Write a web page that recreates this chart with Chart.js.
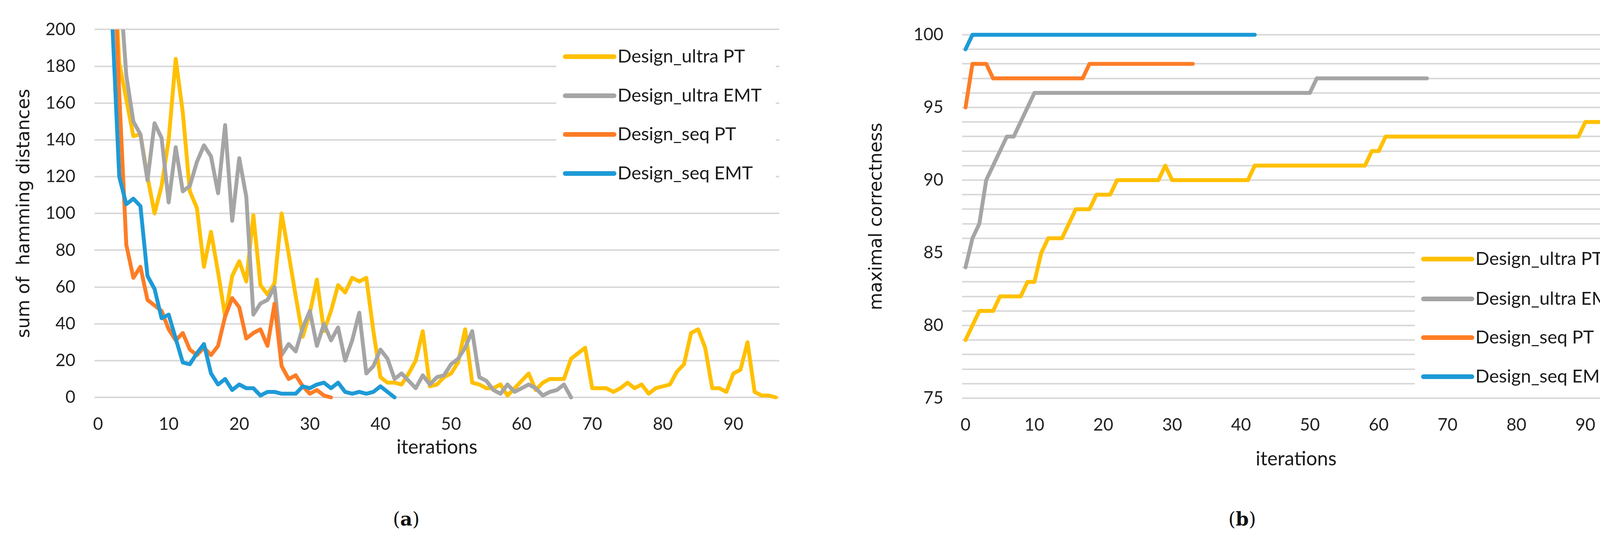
<!DOCTYPE html>
<html>
<head>
<meta charset="utf-8">
<script src="https://cdn.jsdelivr.net/npm/chart.js@4.4.1/dist/chart.umd.min.js"></script>
<style>
html, body { margin: 0; padding: 0; background: #fff; }
body { width: 4229px; height: 1405px; position: relative; overflow: hidden; }
canvas { position: absolute; top: 0; display: block; }
#chart-a { left: 0; width: 2110px; height: 1205px; }
#chart-b { left: 2110px; width: 2119px; height: 1205px; }
.caption { position: absolute; top: 1300px; font-family: "DejaVu Serif", serif; font-size: 48px; color: #111; transform: translateX(-50%); }
</style>
</head>
<body>
<canvas id="chart-a" width="2110" height="1205"></canvas>
<canvas id="chart-b" width="2119" height="1205"></canvas>
<div class="caption" style="left:1040px">(<b>a</b>)</div>
<div class="caption" style="left:3180px">(<b>b</b>)</div>
<script>
// series, in legend order
var series_names = ["Design_ultra PT", "Design_ultra EMT", "Design_seq PT", "Design_seq EMT"];
var series_colors = ["#ffc000", "#a5a5a5", "#fd7d26", "#1e9ad7"];

// (a) sum of hamming distances per iteration
// each series starts at its own iteration
var hamming_ultra_pt_start = 2;
var hamming_ultra_pt = [260, 182, 162, 142, 143, 120, 100, 115, 140, 184,
  155, 112, 103, 71, 90, 68, 44, 66, 74, 63,
  99, 61, 56, 62, 100, 78, 55, 33, 46, 64,
  36, 47, 61, 57, 65, 63, 65, 36, 11, 8,
  8, 7, 13, 20, 36, 6, 7, 11, 13, 19,
  37, 8, 7, 5, 5, 7, 1, 5, 9, 13,
  4, 8, 10, 10, 10, 21, 24, 27, 5, 5,
  5, 3, 5, 8, 5, 7, 2, 5, 6, 7,
  14, 18, 35, 37, 27, 5, 5, 3, 13, 15,
  30, 3, 1, 1, 0];
var hamming_ultra_emt_start = 3;
var hamming_ultra_emt = [230, 175, 150, 143, 118, 149, 141, 106, 136, 112,
  115, 128, 137, 131, 111, 148, 96, 130, 109, 45,
  51, 53, 60, 23, 29, 25, 38, 47, 28, 40,
  31, 38, 20, 31, 46, 13, 17, 26, 21, 10,
  13, 9, 5, 12, 7, 11, 12, 18, 21, 27,
  36, 11, 9, 4, 2, 7, 3, 5, 7, 5,
  1, 3, 4, 7, 0];
var hamming_seq_pt_start = 2;
var hamming_seq_pt = [265, 165, 83, 65, 71, 53, 50, 47, 37, 31,
  35, 26, 23, 27, 23, 28, 44, 54, 49, 32,
  35, 37, 28, 51, 17, 10, 12, 6, 2, 4,
  1, 0];
var hamming_seq_emt_start = 2;
var hamming_seq_emt = [205, 120, 105, 108, 104, 66, 59, 43, 45, 32,
  19, 18, 24, 29, 13, 7, 10, 4, 7, 5,
  5, 1, 3, 3, 2, 2, 2, 6, 5, 7,
  8, 5, 8, 3, 2, 3, 2, 3, 6, 3,
  0];

// (b) maximal correctness per iteration, from iteration 0
var correct_ultra_pt = [79, 80, 81, 81, 81, 82, 82, 82, 82, 83,
  83, 85, 86, 86, 86, 87, 88, 88, 88, 89,
  89, 89, 90, 90, 90, 90, 90, 90, 90, 91,
  90, 90, 90, 90, 90, 90, 90, 90, 90, 90,
  90, 90, 91, 91, 91, 91, 91, 91, 91, 91,
  91, 91, 91, 91, 91, 91, 91, 91, 91, 92,
  92, 93, 93, 93, 93, 93, 93, 93, 93, 93,
  93, 93, 93, 93, 93, 93, 93, 93, 93, 93,
  93, 93, 93, 93, 93, 93, 93, 93, 93, 93,
  94, 94, 94, 94, 94, 94, 94];
var correct_ultra_emt = [84, 86, 87, 90, 91, 92, 93, 93, 94, 95,
  96, 96, 96, 96, 96, 96, 96, 96, 96, 96,
  96, 96, 96, 96, 96, 96, 96, 96, 96, 96,
  96, 96, 96, 96, 96, 96, 96, 96, 96, 96,
  96, 96, 96, 96, 96, 96, 96, 96, 96, 96,
  96, 97, 97, 97, 97, 97, 97, 97, 97, 97,
  97, 97, 97, 97, 97, 97, 97, 97];
var correct_seq_pt = [95, 98, 98, 98, 97, 97, 97, 97, 97, 97,
  97, 97, 97, 97, 97, 97, 97, 97, 98, 98,
  98, 98, 98, 98, 98, 98, 98, 98, 98, 98,
  98, 98, 98, 98];
var correct_seq_emt = [99, 100, 100, 100, 100, 100, 100, 100, 100, 100,
  100, 100, 100, 100, 100, 100, 100, 100, 100, 100,
  100, 100, 100, 100, 100, 100, 100, 100, 100, 100,
  100, 100, 100, 100, 100, 100, 100, 100, 100, 100,
  100, 100, 100];

var x_min = -0.5;
var x_max = 96.5;

function to_points(start, values) {
  var pts = [];
  for (var i = 0; i < values.length; i++) {
    pts.push({x: start + i, y: values[i]});
  }
  return pts;
}

function make_dataset(i, points, clip) {
  return {
    label: series_names[i],
    data: points,
    borderColor: series_colors[i],
    backgroundColor: series_colors[i],
    borderWidth: 10,
    borderJoinStyle: "round",
    borderCapStyle: "round",
    pointRadius: 0,
    tension: 0,
    fill: false,
    clip: clip,
    // later series sit on top, like the original
    order: 4 - i
  };
}

// legend drawn inside the plot, on a white box over the gridlines
var inside_legend = {
  id: "insideLegend",
  beforeDatasetsDraw: function(chart, args, opts) {
    var ctx = chart.ctx;
    ctx.save();
    ctx.fillStyle = "#ffffff";
    ctx.fillRect(opts.box[0], opts.box[1], opts.box[2], opts.box[3]);
    ctx.font = "47px Lato";
    ctx.textBaseline = "middle";
    ctx.lineCap = "round";
    ctx.lineWidth = 12;
    chart.data.datasets.forEach(function(ds, i) {
      var y = opts.rows[i];
      ctx.strokeStyle = ds.borderColor;
      ctx.beginPath();
      ctx.moveTo(opts.line_x[0], y);
      ctx.lineTo(opts.line_x[1], y);
      ctx.stroke();
      ctx.fillStyle = "#1a1a1a";
      ctx.fillText(ds.label, opts.text_x, y);
    });
    ctx.restore();
  }
};

Chart.defaults.font.family = "Lato";
Chart.defaults.color = "#222";

function chart_options(cfg) {
  return {
    responsive: false,
    devicePixelRatio: 1,
    animation: false,
    layout: {padding: {top: cfg.pad_top, right: cfg.pad_right, left: 0, bottom: cfg.pad_bottom}},
    plugins: {
      legend: {display: false},
      tooltip: {enabled: false},
      insideLegend: cfg.legend
    },
    scales: {
      x: {
        type: "linear",
        min: x_min,
        max: x_max,
        grid: {display: false, drawTicks: false},
        border: {display: false},
        ticks: {stepSize: 10, includeBounds: false, padding: 42, font: {size: 44}, color: "#222"},
        title: {display: true, text: "iterations", font: {size: 50}, color: "#1a1a1a", padding: 0},
        afterFit: function(scale) { scale.height = cfg.x_height; }
      },
      y: {
        min: cfg.y_min,
        max: cfg.y_max,
        grid: {color: "#d9d9d9", lineWidth: 4, drawTicks: false},
        border: {display: false},
        ticks: {
          stepSize: cfg.y_step,
          autoSkip: false,
          padding: cfg.y_tick_pad,
          font: {size: 44},
          color: "#222",
          callback: cfg.y_label
        },
        title: {
          display: true,
          text: cfg.y_title,
          font: {family: "DejaVu Sans", size: 46},
          color: "#1a1a1a",
          padding: {top: cfg.y_title_pad, bottom: 0}
        },
        afterFit: function(scale) { scale.width = cfg.y_width; }
      }
    }
  };
}

var clip_a = {left: 20, right: 20, top: 0, bottom: 20};
new Chart(document.getElementById("chart-a"), {
  type: "line",
  data: {
    datasets: [
      make_dataset(0, to_points(hamming_ultra_pt_start, hamming_ultra_pt), clip_a),
      make_dataset(1, to_points(hamming_ultra_emt_start, hamming_ultra_emt), clip_a),
      make_dataset(2, to_points(hamming_seq_pt_start, hamming_seq_pt), clip_a),
      make_dataset(3, to_points(hamming_seq_emt_start, hamming_seq_emt), clip_a)
    ]
  },
  options: chart_options({
    pad_top: 69, pad_right: 115, pad_bottom: 30,
    x_height: 158,
    y_width: 242, y_min: 0, y_max: 200, y_step: 20, y_tick_pad: 49,
    y_title: "sum of  hamming distances", y_title_pad: 35,
    y_label: function(v) { return v; },
    legend: {box: [1424, 100, 562, 398], line_x: [1447, 1572], text_x: 1581, rows: [145, 245, 344, 444]}
  }),
  plugins: [inside_legend]
});

var clip_b = 20;
new Chart(document.getElementById("chart-b"), {
  type: "line",
  data: {
    datasets: [
      make_dataset(0, to_points(0, correct_ultra_pt), clip_b),
      make_dataset(1, to_points(0, correct_ultra_emt), clip_b),
      make_dataset(2, to_points(0, correct_seq_pt), clip_b),
      make_dataset(3, to_points(0, correct_seq_emt), clip_b)
    ]
  },
  options: chart_options({
    pad_top: 89, pad_right: 56, pad_bottom: 0,
    x_height: 186,
    y_width: 353, y_min: 75, y_max: 100, y_step: 1, y_tick_pad: 48,
    y_title: "maximal correctness", y_title_pad: 107,
    y_label: function(v) { return v % 5 === 0 ? v : ""; },
    legend: {box: [1512, 625, 546, 375], line_x: [1534, 1658], text_x: 1667, rows: [663, 765, 864, 964]}
  }),
  plugins: [inside_legend]
});
</script>
</body>
</html>
